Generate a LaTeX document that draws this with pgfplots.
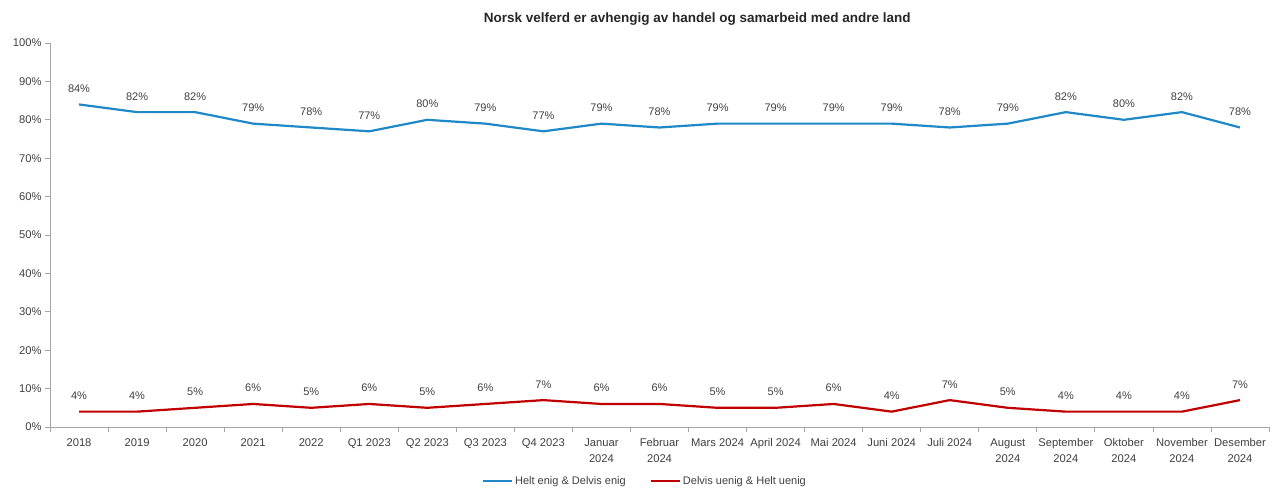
\documentclass[border=0pt]{standalone}
\usepackage{pgfplots}
\pgfplotsset{compat=1.18}
\usepackage{fontspec}
\setmainfont{Liberation Sans}
\definecolor{enig}{HTML}{1F88C6}
\definecolor{uenig}{HTML}{C00000}
\definecolor{axisgray}{HTML}{A6A6A6}
\definecolor{labelgray}{HTML}{404040}
\begin{document}
\begin{tikzpicture}
\begin{axis}[
    name=ax,
    scale only axis,
    width=1219pt, height=384pt,
    xmin=-0.5, xmax=20.5,
    ymin=0, ymax=100,
    axis x line*=bottom, axis y line*=left,
    axis line style={axisgray, line width=0.8pt},
    xtick={0,...,20},
    xticklabels={2018,2019,2020,2021,2022,Q1 2023,Q2 2023,Q3 2023,Q4 2023,Januar\\2024,Februar\\2024,Mars 2024,April 2024,Mai 2024,Juni 2024,Juli 2024,August\\2024,September\\2024,Oktober\\2024,November\\2024,Desember\\2024},
    xticklabel style={align=center, font=\fontsize{11.2}{16}\selectfont, text=labelgray, yshift=-3pt},
    major x tick style={draw=none},
    minor xtick={-0.5,0.5,...,20.5},
    minor x tick style={axisgray, line width=0.8pt},
    ytick={0,10,...,100},
    yticklabel={\pgfmathprintnumber{\tick}\%},
    yticklabel style={font=\fontsize{11.2}{13}\selectfont, text=labelgray},
    y tick style={axisgray, line width=0.8pt},
    tick align=outside,
    major tick length=5pt, minor tick length=5pt,
    /pgf/number format/assume math mode=true,
    title={\textbf{Norsk velferd er avhengig av handel og samarbeid med andre land}},
    title style={at={(0.531,1)}, anchor=center, yshift=18pt, font=\fontsize{13.5}{15}\selectfont, text=black!85},
    nodes near coords={\pgfmathprintnumber{\pgfplotspointmeta}\%},
    nodes near coords style={font=\fontsize{11}{13}\selectfont, text=labelgray, anchor=south, yshift=7.5pt},
    legend style={at={(0.488,0)}, anchor=center, yshift=-54pt, draw=none, legend columns=2,
        font=\fontsize{11}{13}\selectfont, text=labelgray, inner sep=0pt,
        /tikz/every even column/.append style={column sep=22pt}},
    legend image code/.code={\draw[#1] (0pt,0pt) -- (29pt,0pt);},
]
\addplot[enig, line width=2.2pt] coordinates {
(0,84) (1,82) (2,82) (3,79) (4,78) (5,77) (6,80) (7,79) (8,77) (9,79) (10,78)
(11,79) (12,79) (13,79) (14,79) (15,78) (16,79) (17,82) (18,80) (19,82) (20,78)};
\addlegendentry{Helt enig \& Delvis enig}
\addplot[uenig, line width=2.2pt] coordinates {
(0,4) (1,4) (2,5) (3,6) (4,5) (5,6) (6,5) (7,6) (8,7) (9,6) (10,6)
(11,5) (12,5) (13,6) (14,4) (15,7) (16,5) (17,4) (18,4) (19,4) (20,7)};
\addlegendentry{Delvis uenig \& Helt uenig}
\end{axis}
\pgfresetboundingbox
\path[use as bounding box] ([shift={(-50pt,-61pt)}]ax.south west) rectangle ([shift={(7pt,43pt)}]ax.north east);
\end{tikzpicture}
\end{document}
